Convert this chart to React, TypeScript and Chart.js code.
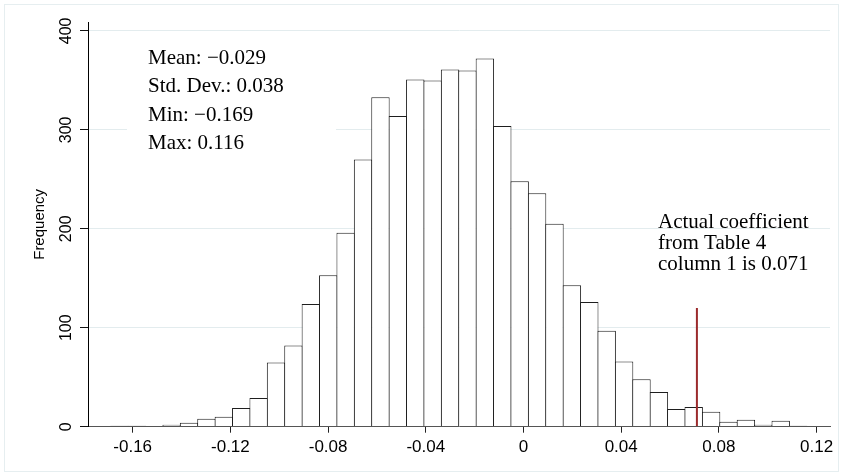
import React, { useEffect, useRef } from "react";
import { Chart, registerables } from "chart.js";

Chart.register(...registerables);

// ---- data ----
const binStart = -0.169;
const binWidth = 0.007125;
const frequencies = [
  1, 1, 0, 2, 4, 8, 10, 19, 29, 65,
  82, 124, 153, 196, 270, 333, 314, 351, 350, 361,
  360, 372, 304, 248, 236, 205, 143, 126, 97, 66,
  48, 35, 18, 20, 15, 5, 7, 2, 6, 1,
];
const xTickValues = [-0.16, -0.12, -0.08, -0.04, 0, 0.04, 0.08, 0.12];
const xTickLabels = ["-0.16", "-0.12", "-0.08", "-0.04", "0", "0.04", "0.08", "0.12"];
const yTickValues = [0, 100, 200, 300, 400];
const yTickLabels = ["0", "100", "200", "300", "400"];
const yTitle = "Frequency";
const statsLines = ["Mean: \u22120.029", "Std. Dev.: 0.038", "Min: \u22120.169", "Max: 0.116"];
const noteLines = ["Actual coefficient", "from Table 4", "column 1 is 0.071"];
const actualCoef = 0.071;
const markerTop = 120;
const xMin = -0.1783;
const xMax = 0.12549;
const yMax = 409;

const SERIF = '"Liberation Serif", "Times New Roman", serif';
const SANS = '"Liberation Sans", Arial, sans-serif';

const textPlugin = {
  id: "textPlugin",
  beforeDraw(chart: any) {
    const ctx = chart.ctx;
    ctx.save();
    ctx.strokeStyle = "#e6eef0";
    ctx.lineWidth = 1;
    ctx.strokeRect(4.5, 4.5, 834, 467);
    ctx.restore();
  },
  beforeDatasetsDraw(chart: any) {
    const ctx = chart.ctx;
    ctx.save();
    ctx.fillStyle = "#ffffff";
    ctx.fillRect(127, 40, 209, 122);
    ctx.restore();
  },
  afterDraw(chart: any) {
    const ctx = chart.ctx;
    const xs = chart.scales.x;
    const ys = chart.scales.y;
    ctx.save();
    ctx.fillStyle = "#000000";
    // x tick labels
    ctx.font = `17px ${SANS}`;
    ctx.textAlign = "center";
    ctx.textBaseline = "alphabetic";
    xTickValues.forEach((v, i) => {
      ctx.fillText(xTickLabels[i], xs.getPixelForValue(v), 451.5);
    });
    // y tick labels (rotated)
    ctx.font = `16px ${SANS}`;
    yTickValues.forEach((v, i) => {
      ctx.save();
      ctx.translate(70.5, ys.getPixelForValue(v));
      ctx.rotate(-Math.PI / 2);
      ctx.textAlign = "center";
      ctx.textBaseline = "alphabetic";
      ctx.fillText(yTickLabels[i], 0, 0);
      ctx.restore();
    });
    // y title
    ctx.save();
    ctx.font = `15px ${SANS}`;
    ctx.translate(40, (chart.chartArea.top + chart.chartArea.bottom) / 2);
    ctx.rotate(-Math.PI / 2);
    ctx.textAlign = "center";
    ctx.textBaseline = "middle";
    ctx.fillText(yTitle, 0, 0);
    ctx.restore();
    // stats box text
    ctx.font = `21px ${SERIF}`;
    ctx.textAlign = "left";
    ctx.textBaseline = "alphabetic";
    const statBase = [64, 92.3, 120.7, 148.7];
    statsLines.forEach((t, i) => ctx.fillText(t, 148, statBase[i]));
    // note text
    const noteBase = [227.7, 249.3, 270];
    noteLines.forEach((t, i) => ctx.fillText(t, 658, noteBase[i]));
    ctx.restore();
  },
};

export default function App() {
  const ref = useRef<HTMLCanvasElement | null>(null);
  useEffect(() => {
    if (!ref.current) return;
    const barData = frequencies.map((f, i) => ({ x: binStart + (i + 0.5) * binWidth, y: f }));
    const chart = new Chart(ref.current, {
      type: "bar",
      data: {
        datasets: [
          {
            type: "line" as any,
            data: [
              { x: actualCoef, y: 0 },
              { x: actualCoef, y: markerTop },
            ],
            borderColor: "#9b2a2c",
            borderWidth: 2,
            pointRadius: 0,
            order: 1,
          } as any,
          {
            type: "bar",
            data: barData,
            backgroundColor: "#ffffff",
            borderColor: "#1e1e1e",
            borderWidth: 1,
            borderSkipped: "start",
            inflateAmount: 0,
            barPercentage: 1.0575,
            categoryPercentage: 1,
            order: 2,
          } as any,
        ],
      },
      options: {
        animation: false,
        responsive: false,
        devicePixelRatio: 1,
        layout: { padding: { left: 0, top: 22, right: 13, bottom: 0 } },
        plugins: { legend: { display: false }, tooltip: { enabled: false } },
        scales: {
          x: {
            type: "linear",
            min: xMin,
            max: xMax,
            offset: false,
            afterBuildTicks: (s: any) => {
              s.ticks = xTickValues.map((v) => ({ value: v }));
            },
            afterFit: (s: any) => {
              s.height = 474 - 426.7;
            },
            ticks: { display: false },
            grid: {
              display: true,
              offset: false,
              drawOnChartArea: false,
              drawTicks: true,
              tickLength: 6,
              tickColor: "#222222",
            },
            border: { display: true, color: "#555555", width: 1, z: 1 },
          },
          y: {
            type: "linear",
            min: 0,
            max: yMax,
            afterBuildTicks: (s: any) => {
              s.ticks = yTickValues.map((v) => ({ value: v }));
            },
            afterFit: (s: any) => {
              s.width = 88;
            },
            ticks: { display: false },
            grid: {
              display: true,
              drawOnChartArea: true,
              drawTicks: true,
              tickLength: 8,
              tickColor: "#111111",
              color: (c: any) => (c.tick && c.tick.value === 0 ? "rgba(0,0,0,0)" : "#e3ecee"),
            },
            border: { display: true, color: "#000000", width: 1, z: 1 },
          },
        },
      },
      plugins: [textPlugin],
    });
    return () => chart.destroy();
  }, []);
  return (
    <div style={{ position: "fixed", left: 0, top: 0, width: 843, height: 474, background: "#ffffff" }}>
      <canvas ref={ref} width={843} height={474} />
    </div>
  );
}
